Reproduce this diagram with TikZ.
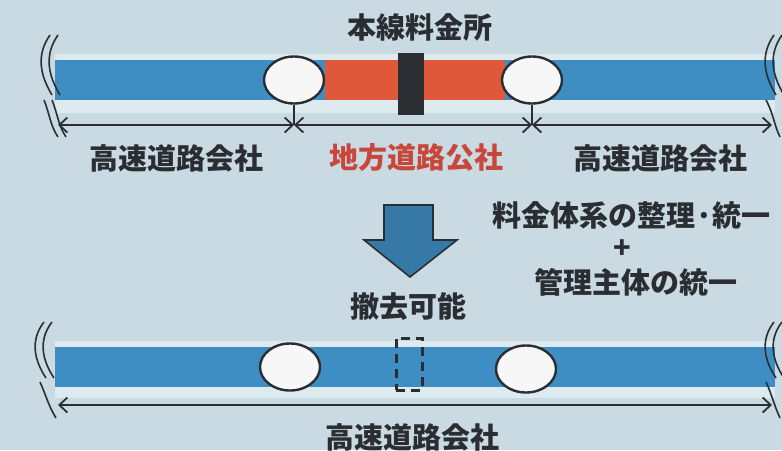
\documentclass[tikz,border=0pt]{standalone}
\usepackage{fontspec}
\setmainfont{Noto Sans CJK JP}
\usetikzlibrary{arrows.meta,shapes.geometric}
\definecolor{bgc}{HTML}{CADAE2}
\definecolor{roadblue}{HTML}{3F8EC3}
\definecolor{roadred}{HTML}{E0583A}
\definecolor{lband}{HTML}{DDEBF1}
\definecolor{ink}{HTML}{2A2E33}
\definecolor{redtxt}{HTML}{C8463A}
\tikzset{
  gate/.style={ellipse, draw=ink, line width=2.4pt, fill=white!94!gray, minimum width=60pt, minimum height=47pt, inner sep=0pt},
  tollbar/.style={rectangle, fill=ink, minimum width=26pt, minimum height=62pt, inner sep=0pt},
  removed/.style={rectangle, draw=ink, dashed, dash pattern=on 9pt off 6pt, line width=3pt, minimum width=26pt, minimum height=52pt, inner sep=0pt},
  lbl/.style={font=\fontsize{29}{32}\selectfont\bfseries, text=ink, inner sep=0pt},
  span/.style={draw=ink, line width=1.8pt, {Straight Barb[length=8pt,width=15pt]}-{Straight Barb[length=8pt,width=15pt]}},
  tick/.style={draw=ink, line width=1.8pt},
  brk/.style={draw=ink, line width=1.6pt},
}
\begin{document}
\begin{tikzpicture}[x=1pt,y=-1pt]
\useasboundingbox (0,0) rectangle (782,450);
\fill[bgc] (0,0) rectangle (782,450);

% ---------- top road ----------
\fill[lband] (55,98) rectangle (775,113);
\fill[lband] (55,54) rectangle (775,61);
\fill[roadblue] (55,60) rectangle (775,100);
\fill[roadred] (325,60) rectangle (505,100);
\node[gate] (g1) at (294,80) {};
\node[gate] (g2) at (532,80) {};
\node[tollbar] (toll) at (411,84) {};
\node[lbl] (tolllbl) at (420,27) {本線料金所};

\coordinate (tl) at (58,125);
\coordinate (t1) at (294,125);
\coordinate (t2) at (532,125);
\coordinate (tr) at (772,125);
\draw[tick] (g1.south) -- (t1);
\draw[tick] (g2.south) -- (t2);
\draw[span] (tl) -- (t1);
\draw[span] (t1) -- (t2);
\draw[span] (t2) -- (tr);

\node[lbl] (c1) at (176,158) {高速道路会社};
\node[lbl, text=redtxt] (c2) at (416,158) {地方道路公社};
\node[lbl] (c3) at (660,158) {高速道路会社};

% break marks top
\draw[brk] (50,35) .. controls (36,55) and (40,75) .. (52,95);
\draw[brk] (58,35) .. controls (44,55) and (48,75) .. (60,95);
\draw[brk] (44,100) .. controls (50,115) and (50,125) .. (58,137);
\draw[brk] (52,100) .. controls (58,115) and (58,125) .. (66,137);
\draw[brk] (774,35) .. controls (760,55) and (764,75) .. (776,95);
\draw[brk] (782,35) .. controls (768,55) and (772,75) .. (784,95);
\draw[brk] (766,100) .. controls (774,115) and (774,125) .. (780,137);

% ---------- arrow and conditions ----------
\draw[ink, line width=1.6pt, fill=roadblue!85!black] (384,205) -- (433,205) -- (433,240) -- (457,240) -- (410,277) -- (364,240) -- (384,240) -- cycle;
\node[lbl, anchor=west] (cond1) at (492,215) {料金体系の整理·統一};
\node[lbl] (plus) at (622,249) {+};
\node[lbl] (cond2) at (636,282) {管理主体の統一};

% ---------- bottom road ----------
\fill[lband] (55,385) rectangle (775,398);
\fill[lband] (55,341) rectangle (775,348);
\fill[roadblue] (55,347) rectangle (775,387);
\node[gate] (g3) at (290,367) {};
\node[gate] (g4) at (526,369) {};
\node[removed] (gone) at (409,364) {};
\node[lbl] (gonelbl) at (408,307) {撤去可能};
\coordinate (bl) at (58,405);
\coordinate (br) at (772,405);
\draw[span] (bl) -- (br);
\node[lbl] (c4) at (412,437) {高速道路会社};

% break marks bottom
\draw[brk] (44,322) .. controls (30,340) and (34,360) .. (46,378);
\draw[brk] (52,322) .. controls (38,340) and (42,360) .. (54,378);
\draw[brk] (40,382) .. controls (46,395) and (48,405) .. (56,418);
\draw[brk] (774,322) .. controls (760,340) and (764,360) .. (776,378);
\draw[brk] (782,322) .. controls (768,340) and (772,360) .. (784,378);
\draw[brk] (766,382) .. controls (772,395) and (774,405) .. (780,418);
\end{tikzpicture}
\end{document}
